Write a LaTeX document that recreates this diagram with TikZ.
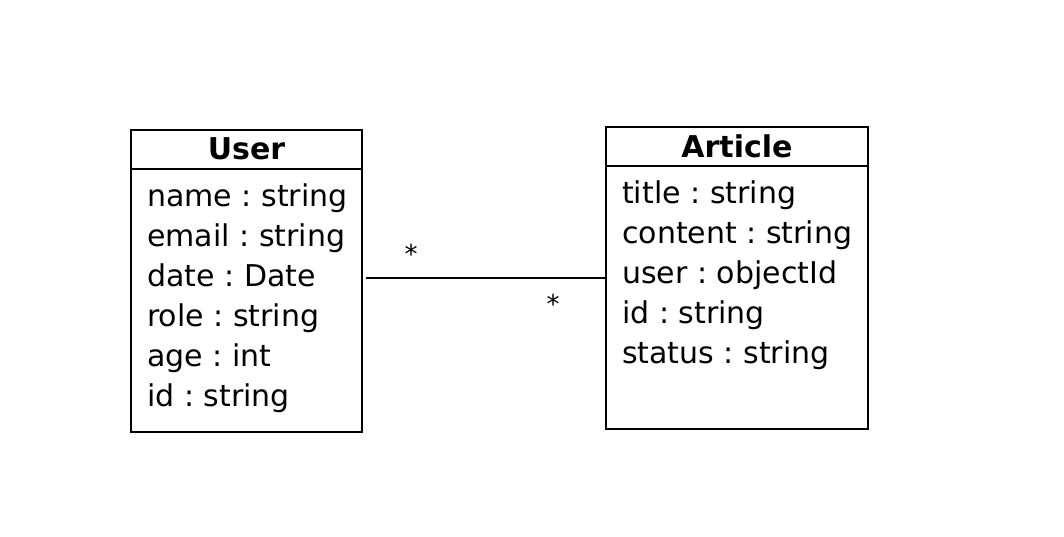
\documentclass[tikz,border=0pt]{standalone}
\usepackage{fontspec}
\setmainfont{DejaVu Sans}
\frenchspacing
\usetikzlibrary{positioning}
\tikzset{
    classbox/.style={draw, line width=2pt, inner sep=0pt},
    attr/.style={anchor=base west, inner sep=0pt, font=\fontsize{30}{36}\selectfont},
    head/.style={anchor=base, inner sep=0pt, font=\fontsize{30}{36}\selectfont\bfseries},
    mult/.style={inner sep=0pt, font=\fontsize{26}{30}\selectfont},
}
\begin{document}
\begin{tikzpicture}[x=1pt, y=-1pt]
    \useasboundingbox (0,0) rectangle (1064,536);
    % class boxes
    \node[classbox, minimum width=231pt, minimum height=302pt] (user) at (246.5,281) {};
    \node[classbox, minimum width=262pt, minimum height=302pt] (article) at (737,278) {};
    \draw[line width=2pt] ([yshift=-40pt]user.north west) -- ([yshift=-40pt]user.north east);
    \draw[line width=2pt] ([yshift=-40pt]article.north west) -- ([yshift=-40pt]article.north east);
    \node[head] (userhead) at (246.5,159) {User};
    \node[head] (articlehead) at (737,157) {Article};
    \foreach \t [count=\i] in {name : string, email : string, date : Date, role : string, age : int, id : string} {
        \node[attr] (U\i) at (147,166+40*\i) {\t};
    }
    \foreach \t [count=\i] in {title : string, content : string, user : objectId, id : string, status : string} {
        \node[attr] (A\i) at (622,163+40*\i) {\t};
    }
    % association
    \draw[line width=2pt, shorten <=3pt] (user.east |- article.west) -- (article.west);
    \node[mult] (m1) at (411,254) {*};
    \node[mult] (m2) at (553,304) {*};
\end{tikzpicture}
\end{document}
